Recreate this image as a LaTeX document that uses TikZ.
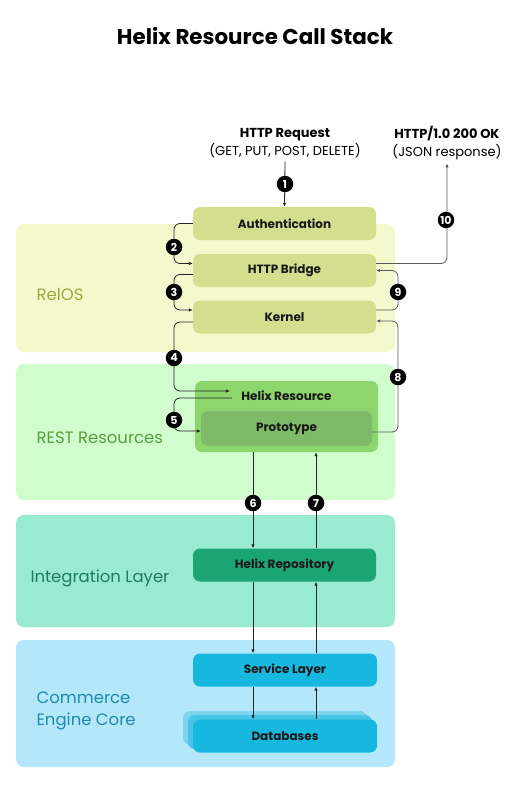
\documentclass[tikz,border=0pt]{standalone}
\usepackage{fontspec}
\setmainfont{Poppins}
\usetikzlibrary{arrows.meta}

\definecolor{relosbg}{HTML}{F4F8CD}
\definecolor{relostx}{HTML}{9BA83E}
\definecolor{restbg}{HTML}{D1FCCE}
\definecolor{resttx}{HTML}{58A03C}
\definecolor{integbg}{HTML}{98EAD1}
\definecolor{integtx}{HTML}{1E7C5E}
\definecolor{corebg}{HTML}{B3E7F9}
\definecolor{coretx}{HTML}{1C8CAA}
\definecolor{relosbox}{HTML}{D3DE8E}
\definecolor{resbox}{HTML}{8CD66B}
\definecolor{protobox}{HTML}{7FBA68}
\definecolor{repobox}{HTML}{1BA474}
\definecolor{corebox}{HTML}{16B8E0}
\definecolor{dbshadeA}{HTML}{7DD4EE}
\definecolor{dbshadeB}{HTML}{48C4E6}

\tikzset{
  band/.style={rounded corners=8pt},
  bandlabel/.style={anchor=west, font=\fontsize{16.5}{22}\selectfont},
  layerbox/.style={rounded corners=7pt, minimum width=183pt, minimum height=33pt,
    inner sep=0pt, text=black!90, font=\bfseries\fontsize{12}{14}\selectfont},
  flow/.style={-{Latex[length=4pt,width=3.5pt]}, line width=0.8pt, draw=black!85, rounded corners=6pt},
  badge/.style={circle, fill=black, text=white, inner sep=0pt, minimum size=16.5pt,
    font=\bfseries\fontsize{11}{11}\selectfont}
}

\begin{document}
\begin{tikzpicture}[x=1pt,y=-1pt]
    \useasboundingbox (0,0) rectangle (510,787);
    \node[font=\bfseries\fontsize{21.4}{25}\selectfont] (title) at (255,36) {Helix Resource Call Stack};

    % layers
    \fill[band, relosbg] (16,224) rectangle (395,352);
    \fill[band, restbg] (16,364) rectangle (395,500);
    \fill[band, integbg] (16,515) rectangle (395,627);
    \fill[band, corebg] (16,640) rectangle (395,767);
    \node[bandlabel, text=relostx] (lrelos) at (33,294) {RelOS};
    \node[bandlabel, text=resttx] (lrest) at (33,438) {REST Resources};
    \node[bandlabel, text=integtx] (linteg) at (27,578) {Integration Layer};
    \node[bandlabel, text=coretx, align=left] (lcore) at (33,711) {Commerce\\Engine Core};

    % requests
    \node[align=center, font=\fontsize{13}{18}\selectfont] (req) at (285,143)
        {\textbf{HTTP Request}\\(GET, PUT, POST, DELETE)};
    \node[align=center, font=\fontsize{13}{18}\selectfont] (resp) at (447,143)
        {\textbf{HTTP/1.0 200 OK}\\(JSON response)};

    % boxes
    \node[layerbox, fill=relosbox] (auth) at (284.5,223.5) {Authentication};
    \node[layerbox, fill=relosbox] (bridge) at (284.5,270.5) {HTTP Bridge};
    \node[layerbox, fill=relosbox] (kernel) at (284.5,317) {Kernel};
    \node[layerbox, fill=resbox, minimum height=71pt] (res) at (286.5,416.5) {};
    \node[font=\bfseries\fontsize{12}{14}\selectfont, text=black!90] (restext) at (286.5,396) {Helix Resource};
    \node[layerbox, fill=protobox, minimum width=171pt, minimum height=35pt] (proto) at (286.5,428.5) {Prototype};
    \node[layerbox, fill=repobox] (repo) at (284.5,565) {Helix Repository};
    \node[layerbox, fill=corebox, minimum width=184pt] (service) at (285,670) {Service Layer};
    \fill[rounded corners=7pt, dbshadeA] (183,711) rectangle (367,745);
    \fill[rounded corners=7pt, dbshadeB] (188,715) rectangle (372,749);
    \node[layerbox, fill=corebox, minimum width=184pt] (db) at (285,736) {Databases};

    % lanes for the connectors
    \coordinate (llane) at (174,0);
    \coordinate (rlane) at (398,0);
    \coordinate (down) at (253,0);
    \coordinate (up) at (316,0);

    \draw[flow] (req.south) -- (auth.north);
    \draw[flow] (auth.west) -- (auth.west -| llane) |- ([yshift=7]bridge.west);
    \draw[flow] ([yshift=-4]bridge.west) -- ([yshift=-4]bridge.west -| llane) |- ([yshift=7]kernel.west);
    \draw[flow] ([yshift=-5]kernel.west) -- ([yshift=-5]kernel.west -| llane) |- ([xshift=-8,yshift=5]restext.west);
    \draw[flow] ([xshift=-6,yshift=-2]restext.west) -- ([yshift=-2]restext.west -| llane) |- ([yshift=-2.5]proto.west);
    \draw[flow] (res.south -| down) -- (repo.north -| down);
    \draw[flow] (repo.north -| up) -- (res.south -| up);
    \draw[flow] (repo.south -| down) -- (service.north -| down);
    \draw[flow] (service.north -| up) -- (repo.south -| up);
    \draw[flow] (service.south -| down) -- (db.north -| down);
    \draw[flow] (db.north -| up) -- (service.south -| up);
    \draw[flow, draw=black!65] ([yshift=-3.5]proto.east) -- ([yshift=-3.5]proto.east -| rlane) |- ([yshift=-4]kernel.east);
    \draw[flow, draw=black!65] ([yshift=7]kernel.east) -- ([yshift=7]kernel.east -| rlane) |- (bridge.east);
    \draw[flow, draw=black!65] ([yshift=7]bridge.east) -| (resp.south);

    % step numbers
    \foreach \n/\px/\py in {1/285/184, 2/174/247, 3/174/292, 4/174/358, 5/174/420,
        6/253/503, 7/316/503, 8/398/377, 9/398/292, 10/446/220}{
        \node[badge] (b\n) at (\px,\py) {\n};
    }
\end{tikzpicture}
\end{document}
